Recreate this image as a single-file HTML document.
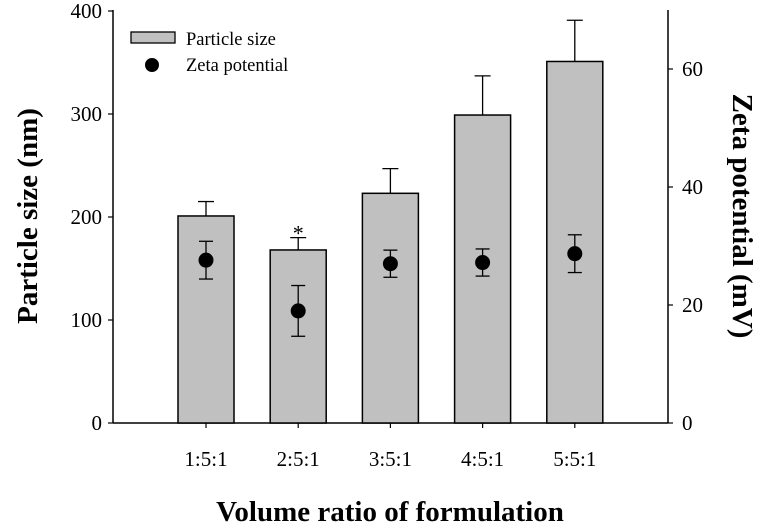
<!DOCTYPE html>
<html><head><meta charset="utf-8"><style>
body{margin:0;background:#fff;position:relative}
svg{display:block;font-family:"Liberation Serif",serif}
</style></head><body>
<svg id="chart" width="767" height="529">
<g id="g"></g>
</svg>
<script>
const categories=["1:5:1","2:5:1","3:5:1","4:5:1","5:5:1"];
const sizeValues=[201,168,223,299,351];
const sizeErrors=[14,12,24,38,40];
const zetaValues=[27.6,19.0,27.0,27.2,28.7];
const zetaErrors=[3.2,4.3,2.3,2.3,3.2];
const leftTicks=[0,100,200,300,400];
const rightTicks=[0,20,40,60];
const NS="http://www.w3.org/2000/svg";
const g=document.getElementById('g');
const x0=113,x1=668,yb=423,yt=11;
const yL=v=>yb-(v/400)*(yb-yt);
const yR=v=>yb-(v/70)*(yb-10);
const xC=i=>206+i*92.2;
function mk(t,a,p){const e=document.createElementNS(NS,t);for(const k in a)e.setAttribute(k,a[k]);(p||g).appendChild(e);return e;}
let e=mk('line',{x1:x0,y1:yt-1,x2:x0,y2:yb,stroke:'#000','stroke-width':1.5});

e=mk('line',{x1:x1,y1:10,x2:x1,y2:yb,stroke:'#000','stroke-width':1.5});

e=mk('line',{x1:x0,y1:yb,x2:x1,y2:yb,stroke:'#000','stroke-width':1.5});

leftTicks.forEach(v=>{mk('line',{x1:x0-5,y1:yL(v),x2:x0,y2:yL(v),stroke:'#000','stroke-width':1.2});
 e=mk('text',{x:x0-11,y:yL(v)+7,'text-anchor':'end','font-size':21});e.textContent=v;
 });
rightTicks.forEach(v=>{mk('line',{x1:x1,y1:yR(v),x2:x1+5,y2:yR(v),stroke:'#000','stroke-width':1.2});
 e=mk('text',{x:x1+14,y:yR(v)+7,'text-anchor':'start','font-size':21});e.textContent=v;
 });
categories.forEach((c,i)=>{const x=xC(i);
 mk('line',{x1:x,y1:yb,x2:x,y2:yb+5,stroke:'#000','stroke-width':1.2});
 e=mk('text',{x:x,y:466,'text-anchor':'middle','font-size':21});e.textContent=c;
 
 const top=yL(sizeValues[i]+sizeErrors[i]);
 mk('line',{x1:x,y1:yL(sizeValues[i]),x2:x,y2:top,stroke:'#000','stroke-width':1.3});
 mk('line',{x1:x-8,y1:top,x2:x+8,y2:top,stroke:'#000','stroke-width':1.3});
 e=mk('rect',{x:x-28,y:yL(sizeValues[i]),width:56,height:yb-yL(sizeValues[i]),fill:'#c0c0c0',stroke:'#000','stroke-width':1.5});
 
 const zy=yR(zetaValues[i]),zt=yR(zetaValues[i]+zetaErrors[i]),zb=yR(zetaValues[i]-zetaErrors[i]);
 mk('line',{x1:x,y1:zt,x2:x,y2:zb,stroke:'#000','stroke-width':1.3});
 mk('line',{x1:x-7,y1:zt,x2:x+7,y2:zt,stroke:'#000','stroke-width':1.3});
 mk('line',{x1:x-7,y1:zb,x2:x+7,y2:zb,stroke:'#000','stroke-width':1.3});
 e=mk('circle',{cx:x,cy:zy,r:7.5,fill:'#000'});
 
});
e=mk('text',{x:xC(1),y:yL(sizeValues[1]+sizeErrors[1])+3,'text-anchor':'middle','font-size':22});e.textContent='*';

</script>
<svg style="position:absolute;left:0;top:0" width="767" height="529">
<g font-family="Liberation Serif, serif">
<rect x="131" y="32" width="44" height="11" fill="#c0c0c0" stroke="#000" stroke-width="1.3"/>
<text x="186" y="45" font-size="18.5">Particle size</text>
<circle cx="152" cy="65" r="7" fill="#000"/>
<text x="186" y="71" font-size="18.5">Zeta potential</text>
<text x="390" y="521" text-anchor="middle" font-size="29" font-weight="bold">Volume ratio of formulation</text>
<text transform="translate(37,216) rotate(-90)" text-anchor="middle" font-size="29" font-weight="bold">Particle size (nm)</text>
<text transform="translate(733,216) rotate(90)" text-anchor="middle" font-size="29" font-weight="bold">Zeta potential (mV)</text>
</g>
</svg>
</body></html>
